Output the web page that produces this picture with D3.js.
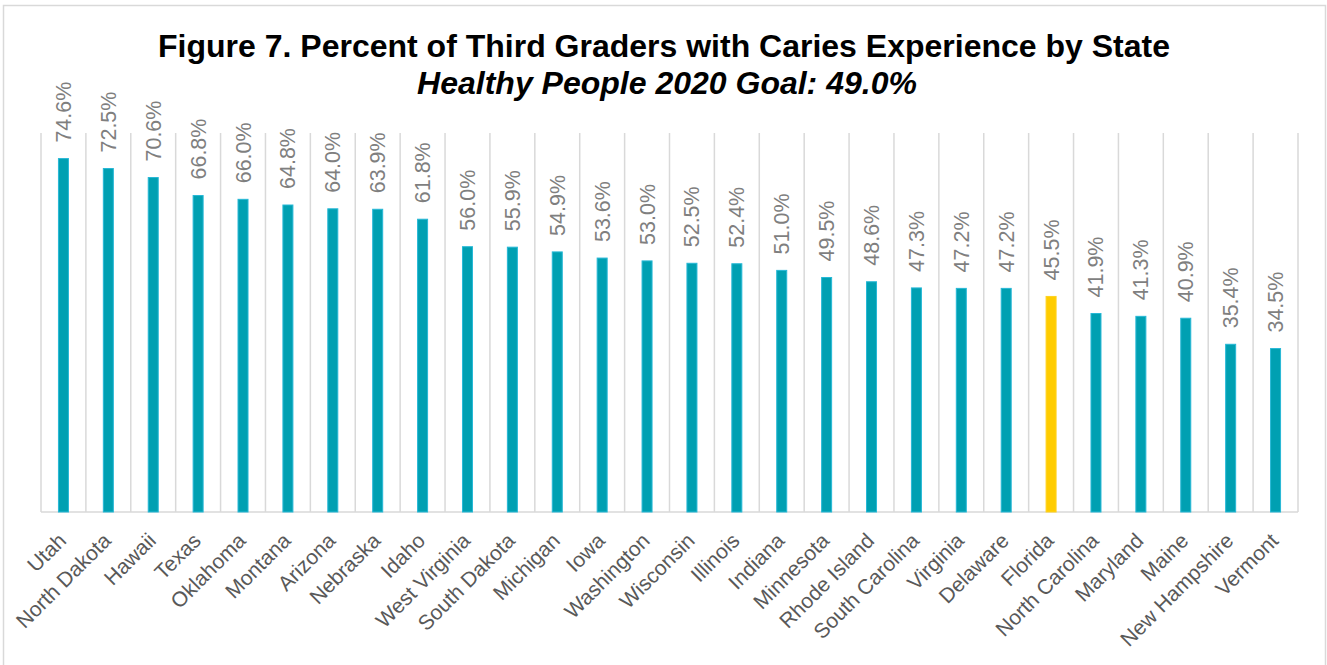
<!DOCTYPE html>
<html><head><meta charset="utf-8">
<script src="https://cdn.jsdelivr.net/npm/d3@7"></script>
<style>body{margin:0;background:#fff}svg{display:block}</style>
</head><body>
<script>
const states = ["Utah","North Dakota","Hawaii","Texas","Oklahoma","Montana","Arizona","Nebraska","Idaho","West Virginia","South Dakota","Michigan","Iowa","Washington","Wisconsin","Illinois","Indiana","Minnesota","Rhode Island","South Carolina","Virginia","Delaware","Florida","North Carolina","Maryland","Maine","New Hampshire","Vermont"];
const values = [74.6,72.5,70.6,66.8,66.0,64.8,64.0,63.9,61.8,56.0,55.9,54.9,53.6,53.0,52.5,52.4,51.0,49.5,48.6,47.3,47.2,47.2,45.5,41.9,41.3,40.9,35.4,34.5];
const highlight = "Florida";
const title = "Figure 7. Percent of Third Graders with Caries Experience by State";
const subtitle = "Healthy People 2020 Goal: 49.0%";

const W = 1327, H = 665;
const svg = d3.select("body").append("svg").attr("width", W).attr("height", H);
svg.append("rect").attr("x", 3.5).attr("y", 5.5).attr("width", W - 5).attr("height", H + 10)
  .attr("fill", "#fff").attr("stroke", "#d9d9d9").attr("stroke-width", 1.5);

svg.append("text").attr("x", 664).attr("y", 57).attr("text-anchor", "middle")
  .attr("font-family", "Liberation Sans, Arial, sans-serif").attr("font-weight", "bold")
  .attr("font-size", 32).attr("fill", "#000").text(title);
svg.append("text").attr("x", 667).attr("y", 94).attr("text-anchor", "middle")
  .attr("font-family", "Liberation Sans, Arial, sans-serif").attr("font-weight", "bold")
  .attr("font-style", "italic").attr("font-size", 32).attr("fill", "#000").text(subtitle);

const x = d3.scaleBand().domain(states).range([41, 1298]).padding(0);
const y = d3.scaleLinear().domain([0, 80]).range([512, 133]);

// vertical gridlines at category boundaries
const bounds = states.map(s => x(s)).concat([x.range()[1]]);
svg.append("g").selectAll("line").data(bounds).join("line")
  .attr("x1", d => d).attr("x2", d => d).attr("y1", y(80)).attr("y2", y(0))
  .attr("stroke", "#d9d9d9").attr("stroke-width", 1.5);
svg.append("line").attr("x1", x.range()[0]).attr("x2", x.range()[1]).attr("y1", y(0)).attr("y2", y(0))
  .attr("stroke", "#d9d9d9").attr("stroke-width", 1.5);

const bw = 10;
svg.append("g").selectAll("rect").data(states).join("rect")
  .attr("x", d => x(d) + x.bandwidth() / 2 - bw / 2)
  .attr("y", (d, i) => y(values[i]))
  .attr("width", bw)
  .attr("height", (d, i) => y(0) - y(values[i]))
  .attr("fill", d => d === highlight ? "#FFCC00" : "#00A0B2")
  .attr("stroke", d => d === highlight ? "#FFD21F" : "#27B8D6").attr("stroke-width", 1);

// value labels
svg.append("g").selectAll("text").data(states).join("text")
  .attr("transform", (d, i) => `translate(${x(d) + x.bandwidth() / 2 + 7.5},${y(values[i]) - 16}) rotate(-90)`)
  .attr("font-family", "Liberation Sans, Arial, sans-serif").attr("font-size", 21.5)
  .attr("fill", "#7f7f7f").text((d, i) => values[i].toFixed(1) + "%");

// x axis labels
svg.append("g").selectAll("text").data(states).join("text")
  .attr("transform", d => `translate(${x(d) + x.bandwidth() / 2 + 4},${542}) rotate(-45)`)
  .attr("text-anchor", "end")
  .attr("font-family", "Liberation Sans, Arial, sans-serif").attr("font-size", 21)
  .attr("fill", "#595959").text(d => d);
</script>
</body></html>
